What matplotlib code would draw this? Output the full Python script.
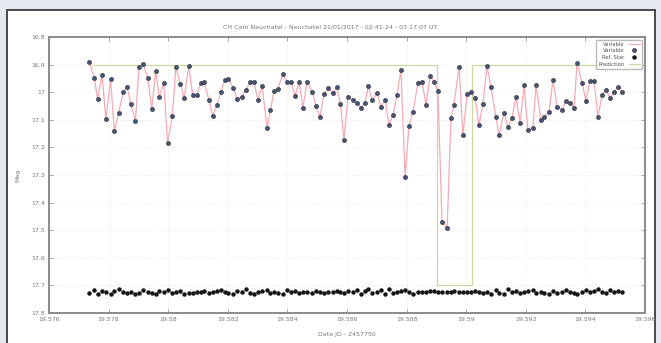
import numpy as np
import matplotlib
matplotlib.use('Agg')
import matplotlib.pyplot as plt
from matplotlib.patches import Rectangle
from matplotlib.ticker import FuncFormatter, MultipleLocator


# data: JD - 2457750 and magnitudes
jd = [19.57735, 19.57752, 19.57763, 19.57778, 19.57791, 19.57807, 19.57819, 19.57834,
      19.57849, 19.57862, 19.57874, 19.57890, 19.57902, 19.57916, 19.57931, 19.57945,
      19.57958, 19.57970, 19.57985, 19.57998, 19.58014, 19.58026, 19.58040, 19.58054,
      19.58069, 19.58082, 19.58096, 19.58109, 19.58120, 19.58137, 19.58149, 19.58164,
      19.58178, 19.58190, 19.58202, 19.58218, 19.58232,
      19.58246, 19.58261, 19.58275, 19.58288, 19.58301, 19.58315, 19.58332, 19.58343,
      19.58355, 19.58368, 19.58385, 19.58399, 19.58412, 19.58426, 19.58439, 19.58452,
      19.58466, 19.58483, 19.58496, 19.58509, 19.58523, 19.58536, 19.58553, 19.58566,
      19.58578, 19.58590, 19.58603, 19.58620, 19.58634, 19.58647, 19.58660, 19.58672,
      19.58684, 19.58701, 19.58714, 19.58728, 19.58741, 19.58754, 19.58768, 19.58781,
      19.58795, 19.58808, 19.58821, 19.58838, 19.58852, 19.58865, 19.58879, 19.58892,
      19.58905, 19.58919, 19.58936, 19.58949, 19.58959, 19.58976, 19.58989, 19.59003,
      19.59016, 19.59030, 19.59043, 19.59056, 19.59070, 19.59083, 19.59100, 19.59110,
      19.59127, 19.59140, 19.59154, 19.59167, 19.59181, 19.59194, 19.59207, 19.59224,
      19.59234, 19.59251, 19.59261, 19.59278, 19.59291, 19.59305, 19.59322, 19.59335,
      19.59348, 19.59362, 19.59372, 19.59389, 19.59402, 19.59415, 19.59429, 19.59442,
      19.59456, 19.59469, 19.59483, 19.59496, 19.59509, 19.59523]

var_mag = [16.892, 16.947, 17.026, 16.938, 17.097, 16.953, 17.141, 17.074,
           17.000, 16.982, 17.042, 17.104, 16.908, 16.899, 16.947, 17.061,
           16.922, 17.016, 16.966, 17.183, 17.085, 16.909, 16.969, 17.020,
           16.904, 17.009, 17.009, 16.968, 16.962, 17.028, 17.086, 17.046,
           16.998, 16.956, 16.952, 16.984, 17.025,
           17.017, 16.992, 16.963, 16.963, 17.028, 16.978, 17.130, 17.065,
           16.996, 16.988, 16.934, 16.963, 16.963, 17.014, 16.963, 17.057,
           16.963, 16.999, 17.050, 17.090, 17.007, 16.985, 17.003, 16.981,
           17.043, 17.173, 17.017, 17.028, 17.039, 17.057, 17.039, 16.978,
           17.028, 17.003, 17.054, 17.028, 17.119, 17.083, 17.010, 16.920,
           17.307, 17.122, 17.072, 16.967, 16.963, 17.046, 16.941, 16.963,
           16.996, 17.470, 17.492, 17.093, 17.046, 16.909, 17.155, 17.007,
           17.000, 17.021, 17.119, 17.043, 16.905, 16.981, 17.090, 17.155,
           17.075, 17.126, 17.093, 17.017, 17.112, 16.974, 17.137, 17.130,
           16.974, 17.101, 17.090, 17.072, 16.956, 17.054, 17.065, 17.032,
           17.039, 17.057, 16.894, 16.967, 17.032, 16.959, 16.959, 17.090,
           17.010, 16.992, 17.021, 16.999, 16.981, 16.999]

ref_mag = [17.728, 17.716, 17.731, 17.722, 17.725, 17.731, 17.722, 17.712, 17.725, 17.728,
           17.725, 17.731, 17.728, 17.718, 17.725, 17.728, 17.731, 17.722, 17.725, 17.716,
           17.728, 17.725, 17.722, 17.731, 17.728, 17.728, 17.725, 17.725, 17.722, 17.728,
           17.725, 17.722, 17.716, 17.725, 17.728, 17.731, 17.722, 17.725, 17.712, 17.728,
           17.731, 17.725, 17.722, 17.716, 17.728, 17.725, 17.728, 17.731, 17.718, 17.725,
           17.722, 17.728, 17.725, 17.725, 17.728, 17.722, 17.725, 17.728, 17.725, 17.725,
           17.722, 17.725, 17.728, 17.722, 17.725, 17.716, 17.731, 17.722, 17.712, 17.728,
           17.725, 17.716, 17.731, 17.712, 17.728, 17.725, 17.722, 17.716, 17.725, 17.731,
           17.725, 17.725, 17.725, 17.722, 17.722, 17.725, 17.725, 17.725, 17.725, 17.722,
           17.725, 17.725, 17.725, 17.725, 17.722, 17.725, 17.728, 17.725, 17.731, 17.716,
           17.728, 17.731, 17.712, 17.725, 17.722, 17.728, 17.725, 17.722, 17.716, 17.728,
           17.725, 17.728, 17.731, 17.722, 17.728, 17.725, 17.716, 17.725, 17.728, 17.731,
           17.725, 17.718, 17.725, 17.722, 17.712, 17.725, 17.728, 17.716, 17.725, 17.722,
           17.725]

# step curve of the occultation prediction
step_jd = [19.57738, 19.58902, 19.58902, 19.59020, 19.59020, 19.59530]
step_mag = [16.900, 16.900, 17.700, 17.700, 16.900, 16.900]

legend_labels = ['Variable', 'Variable', 'Ref. Star', 'Prediction']

fig = plt.figure(figsize=(6.61, 3.43), dpi=100)
fig.patch.set_facecolor('#e4e9f0')

# white panel behind the plot
bg = fig.add_axes([0, 0, 1, 1], zorder=-5)
bg.set_xlim(0, 661)
bg.set_ylim(343, 0)
bg.axis('off')
bg.add_patch(Rectangle((7, 10), 648, 345, facecolor='white', edgecolor='#3c3c3c', lw=1.3))

ax = fig.add_axes([49 / 661, 1 - 313 / 343, 596 / 661, 276 / 343], zorder=1)
ax.set_facecolor('white')

n = min(len(jd), len(var_mag))
ax.plot(step_jd, step_mag, color='#c9d9a0', lw=0.9, zorder=2, label=legend_labels[3])
ax.plot(jd[:n], var_mag[:n], color='#f5aab4', lw=0.9, zorder=3, label=legend_labels[0])
ax.plot(jd[:n], var_mag[:n], ls='none', marker='o', ms=3.0, mfc='#45547a', mec='#333',
        mew=0.4, zorder=4, label=legend_labels[1])
m = min(len(jd), len(ref_mag))
ax.plot(jd[:m], ref_mag[:m], ls='none', marker='o', ms=2.2, mfc='#151515', mec='#151515',
        zorder=4, label=legend_labels[2])

ax.set_xlim(19.576, 19.596)
ax.set_ylim(17.8, 16.8)
ax.xaxis.set_major_locator(MultipleLocator(0.002))
ax.yaxis.set_major_locator(MultipleLocator(0.1))
ax.xaxis.set_major_formatter(FuncFormatter(lambda v, p: '%g' % round(v, 4)))
ax.yaxis.set_major_formatter(FuncFormatter(lambda v, p: '%g' % round(v, 2)))
ax.tick_params(direction='in', length=3, width=0.6, colors='#999', labelsize=4.5,
               labelcolor='#777', top=True, right=True, pad=3)
ax.grid(True, color='#e6e6e6', lw=0.6, ls=':')
for s in ax.spines.values():
    s.set_color('#8a8a8a')
    s.set_linewidth(1.4)

ax.set_xlabel('Date JD - 2457750', fontsize=4.5, color='#777')
ax.xaxis.set_label_coords(0.5, -0.07)
ax.set_ylabel('Mag', fontsize=4.5, color='#777')
ax.yaxis.set_label_coords(-0.048, 0.5)
fig.text(0.5, 1 - 27 / 343, 'CH Cam Neuchatel - Neuchatel 21/01/2017 - 02:41:24 - 03:17:07 UT',
         ha='center', va='center', fontsize=4.5, color='#777')

h, l = ax.get_legend_handles_labels()
order = [1, 2, 3, 0]
leg = ax.legend([h[i] for i in order], [l[i] for i in order], loc='upper right',
                fontsize=3.8, markerfirst=False, frameon=True, fancybox=False,
                edgecolor='#aaa', handlelength=2.2, borderpad=0.4, labelspacing=0.3)
for t in leg.get_texts():
    t.set_color('#555')

fig.savefig('out.png', dpi=100, facecolor=fig.get_facecolor())
